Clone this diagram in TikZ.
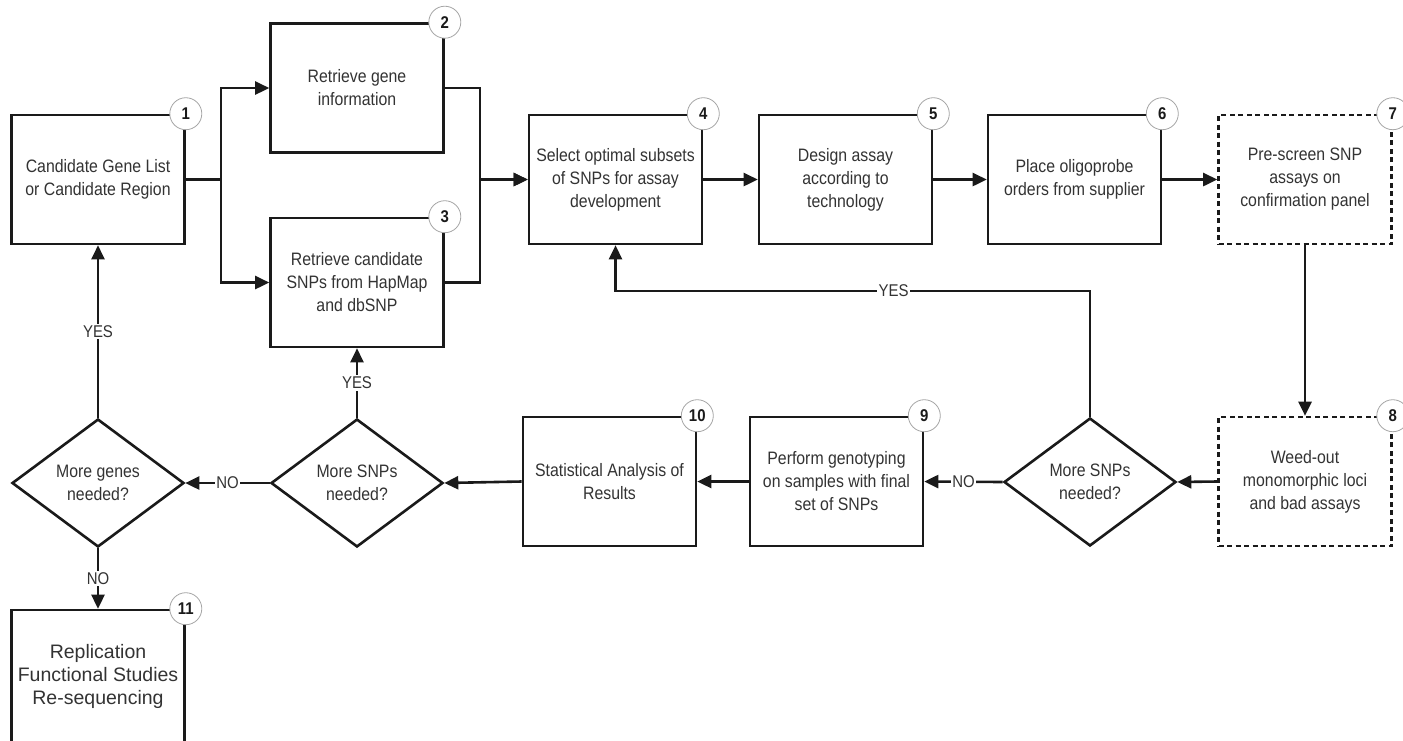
\documentclass[tikz,border=0pt]{standalone}
\usepackage{fontspec}
\setmainfont{Liberation Sans}[FakeStretch=0.88]
\newfontfamily\widesans{Liberation Sans}
\usetikzlibrary{arrows.meta,shapes.geometric}
\definecolor{ink}{HTML}{1A1A1A}
\definecolor{txt}{HTML}{333333}
\begin{document}
\begin{tikzpicture}[x=1pt,y=-1pt,
  box/.style={draw=ink, line width=2.6pt, fill=white, minimum width=173pt,
    minimum height=129pt, inner sep=2pt, align=center, text=txt,
    font=\fontsize{18}{23}\selectfont},
  dbox/.style={box, dash pattern=on 5pt off 3.5pt},
  decision/.style={diamond, draw=ink, line width=2.6pt, fill=white,
    minimum width=172pt, minimum height=128pt, aspect=1.344, inner sep=0pt,
    align=center, text=txt, font=\fontsize{18}{23}\selectfont},
  num/.style={circle, draw=gray!70, line width=0.8pt, fill=white,
    minimum size=32pt, inner sep=0pt, text=ink,
    font=\fontsize{17}{17}\selectfont\bfseries},
  link/.style={draw=ink, line width=2.6pt},
  arr/.style={link, -{Triangle[length=14pt,width=13pt]}},
  lbl/.style={fill=white, inner sep=1.5pt, text=txt,
    font=\fontsize{17}{17}\selectfont}
]
\useasboundingbox (0,0) rectangle (1403,740);

% process boxes, top row
\node[box]  (n1) at (98,179.5)   {Candidate Gene List\\or Candidate Region};
\node[box]  (n2) at (357,88)     {Retrieve gene\\information};
\node[box]  (n3) at (357,282.5)  {Retrieve candidate\\SNPs from HapMap\\and dbSNP};
\node[box]  (n4) at (615.5,179.5){Select optimal subsets\\of SNPs for assay\\development};
\node[box]  (n5) at (845.5,179.5){Design assay\\according to\\technology};
\node[box]  (n6) at (1074.5,179.5){Place oligoprobe\\orders from supplier};
\node[dbox] (n7) at (1305,179.5) {Pre-screen SNP\\assays on\\confirmation panel};

% bottom row
\node[dbox] (n8)  at (1305,481.5) {Weed-out\\monomorphic loci\\and bad assays};
\node[decision] (d1) at (1090,482) {More SNPs\\needed?};
\node[box]  (n9)  at (836.5,481.5) {Perform genotyping\\on samples with final\\set of SNPs};
\node[box]  (n10) at (609.5,481.5) {Statistical Analysis of\\Results};
\node[decision] (d2) at (357,483) {More SNPs\\needed?};
\node[decision] (d3) at (98,483)  {More genes\\needed?};
\node[box, minimum height=132pt, font=\widesans\fontsize{19.5}{23}\selectfont]
  (n11) at (98,676) {Replication\\Functional Studies\\Re-sequencing};

% connectors
\draw[arr] (n1.east) -- ++(35,0) |- (n2.west);
\draw[arr] (n1.east) -- ++(35,0) |- (n3.west);
\draw[arr] (n2.east) -- ++(35,0) |- (n4.west);
\draw[arr] (n3.east) -- ++(35,0) |- (n4.west);
\draw[arr] (n4) -- (n5);
\draw[arr] (n5) -- (n6);
\draw[arr] (n6) -- (n7);
\draw[arr] (n7) -- (n8);
\draw[arr] (n8.west) -- (d1.east);
\coordinate (yesrow) at (0,291);
\draw[arr] (d1.north) -- (d1.north |- yesrow)
  -- node[lbl, pos=0.414] {YES} (n4.south |- yesrow) -- (n4.south);
\draw[arr] (d1.west) -- node[lbl] {NO} (n9.east);
\draw[arr] (n9) -- (n10);
\draw[arr] (n10.west) -- (d2.east);
\draw[arr] (d2.north) -- node[lbl] {YES} (n3.south);
\draw[arr] (d2.west) -- node[lbl] {NO} (d3.east);
\draw[arr] (d3.north) -- node[lbl] {YES} (n1.south);
\draw[arr] (d3.south) -- node[lbl] {NO} (n11.north);

% step numbers
\node[num] (c1)  at (n1.north east)  {1};
\node[num] (c2)  at (n2.north east)  {2};
\node[num] (c3)  at (n3.north east)  {3};
\node[num] (c4)  at (n4.north east)  {4};
\node[num] (c5)  at (n5.north east)  {5};
\node[num] (c6)  at (n6.north east)  {6};
\node[num] (c7)  at (n7.north east)  {7};
\node[num] (c8)  at (n8.north east)  {8};
\node[num] (c9)  at (n9.north east)  {9};
\node[num] (c10) at (n10.north east) {10};
\node[num] (c11) at (n11.north east) {11};
\end{tikzpicture}
\end{document}
